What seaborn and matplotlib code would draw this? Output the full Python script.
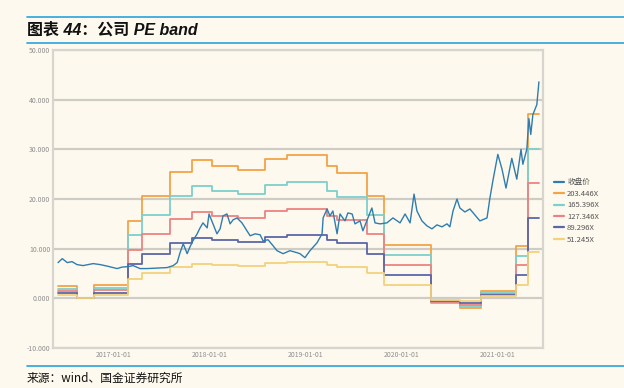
import matplotlib
matplotlib.use("Agg")
import matplotlib.pyplot as plt
from matplotlib.lines import Line2D
import seaborn as sns
import pandas as pd

# ---------------- data ----------------
price_dates = [
    "2016-06-06", "2016-06-22", "2016-07-11", "2016-07-29", "2016-08-17", "2016-09-09",
    "2016-10-17", "2016-11-13", "2016-12-09", "2017-01-01", "2017-01-16", "2017-02-04",
    "2017-02-27", "2017-03-18", "2017-04-13", "2017-05-10", "2017-06-17", "2017-07-25",
    "2017-08-17", "2017-09-01", "2017-09-12", "2017-09-24", "2017-10-09", "2017-10-20",
    "2017-10-31", "2017-11-16", "2017-11-27", "2017-12-08", "2017-12-24", "2017-12-31",
    "2018-01-15", "2018-01-30", "2018-02-11", "2018-02-22", "2018-03-09", "2018-03-21",
    "2018-04-01", "2018-04-16", "2018-05-05", "2018-05-24", "2018-06-05", "2018-06-24",
    "2018-07-13", "2018-07-24", "2018-08-12", "2018-08-31", "2018-09-15", "2018-10-08",
    "2018-11-03", "2018-11-30", "2018-12-11", "2018-12-30", "2019-01-18", "2019-02-14",
    "2019-03-05", "2019-03-09", "2019-03-24", "2019-04-04", "2019-04-15", "2019-05-01",
    "2019-05-12", "2019-05-31", "2019-06-11", "2019-06-27", "2019-07-08", "2019-07-27",
    "2019-08-07", "2019-08-26", "2019-09-10", "2019-09-22", "2019-10-11", "2019-11-06",
    "2019-11-29", "2019-12-26", "2020-01-14", "2020-02-02", "2020-02-17", "2020-02-28",
    "2020-03-18", "2020-04-06", "2020-04-25", "2020-05-14", "2020-06-02", "2020-06-21",
    "2020-07-02", "2020-07-14", "2020-07-29", "2020-08-09", "2020-08-28", "2020-09-16",
    "2020-10-05", "2020-10-24", "2020-11-20", "2020-12-01", "2020-12-12", "2020-12-31",
    "2021-01-16", "2021-01-31", "2021-02-22", "2021-03-13", "2021-03-29", "2021-04-05",
    "2021-04-20", "2021-04-28", "2021-05-05", "2021-05-13", "2021-05-28", "2021-06-05",
]
price_values = [
    7200, 8000, 7200, 7400, 6800, 6600,
    7000, 6800, 6500, 6200, 6000, 6300,
    6400, 6600, 6000, 6000, 6100, 6200,
    6600, 7200, 9200, 11000, 9000, 10400,
    11600, 13000, 14200, 15200, 14200, 17000,
    15000, 13000, 14000, 16600, 17000, 15000,
    15800, 16200, 15200, 13600, 12600, 13000,
    12800, 11600, 11800, 10600, 9600, 9000,
    9600, 9200, 9000, 8200, 9600, 11200,
    13000, 16200, 18000, 16600, 17600, 13000,
    17000, 15600, 17200, 17000, 15000, 15600,
    13600, 16200, 18200, 15200, 15000, 15200,
    16200, 15200, 17000, 15200, 21000, 17600,
    15600, 14600, 14000, 14800, 14400, 15000,
    14400, 17600, 20000, 18200, 17400, 18000,
    16800, 15600, 16200, 20200, 23600, 29000,
    26000, 22200, 28200, 24000, 30000, 27000,
    30000, 36200, 33000, 37000, 39000, 43600,
]

eps_dates = [
    "2016-06-06", "2016-08-17", "2016-10-21", "2017-02-27", "2017-04-20", "2017-08-05",
    "2017-10-28", "2018-01-11", "2018-04-20", "2018-08-01", "2018-10-23", "2019-03-23",
    "2019-04-30", "2019-08-21", "2019-10-26", "2020-04-21", "2020-08-09", "2020-10-28",
    "2021-03-10", "2021-04-24", "2021-06-05",
]
eps_values = [
    12, 0, 13, 77, 101, 125,
    137, 131, 127, 138, 142, 131,
    124, 101, 53, -5, -10, 7.5,
    52, 182, 182,
]

band_multiples = [203.446, 165.396, 127.346, 89.296, 51.245]
series_labels = ["收盘价", "203.446X", "165.396X", "127.346X", "89.296X", "51.245X"]
series_colors = ["#2F7DB0", "#F4A345", "#7DD0CB", "#EC8383", "#5C66A6", "#F2D27C"]

y_ticks = [-10000, 0, 10000, 20000, 30000, 40000, 50000]
y_tick_labels = ["-10.000", "0.000", "10.000", "20.000", "30.000", "40.000", "50.000"]
x_ticks = ["2017-01-01", "2018-01-01", "2019-01-01", "2020-01-01", "2021-01-01"]

# ---------------- frames ----------------
price_df = pd.DataFrame({"date": pd.to_datetime(price_dates), "value": price_values})
band_frames = []
for m, lab in zip(band_multiples, series_labels[1:]):
    band_frames.append(pd.DataFrame({
        "date": pd.to_datetime(eps_dates),
        "value": [m * e for e in eps_values],
        "band": lab,
    }))
bands_df = pd.concat(band_frames, ignore_index=True)

# ---------------- figure ----------------
sns.set_theme(style="white")
plt.rcParams["font.family"] = ["Noto Sans CJK SC", "DejaVu Sans"]
bg = "#FDF9EE"
fig = plt.figure(figsize=(6.24, 3.88), dpi=100, facecolor=bg)
ax = fig.add_axes([0.085, 0.103, 0.785, 0.768], facecolor=bg)

for y in y_ticks:
    ax.axhline(y, color="#CFCCC6", lw=1.6, zorder=0)

for lab, col in zip(series_labels[1:], series_colors[1:]):
    sub = bands_df[bands_df["band"] == lab]
    sns.lineplot(data=sub, x="date", y="value", ax=ax, color=col, lw=1.3,
                 drawstyle="steps-post", legend=False, zorder=2)

sns.lineplot(data=price_df, x="date", y="value", ax=ax, color=series_colors[0],
             lw=1.0, legend=False, zorder=3)

ax.set_xlim(pd.Timestamp("2016-05-18"), pd.Timestamp("2021-06-20"))
ax.set_ylim(-10000, 50000)
ax.set_yticks(y_ticks)
ax.set_yticklabels(y_tick_labels, fontsize=5, color="#8F8F8F")
ax.set_xticks(pd.to_datetime(x_ticks))
ax.set_xticklabels(x_ticks, fontsize=5, color="#8F8F8F")
ax.tick_params(axis="both", length=0, pad=2)
ax.set_xlabel("")
ax.set_ylabel("")
for s in ax.spines.values():
    s.set_color("#D8D5CF")
    s.set_linewidth(1.6)

handles = [Line2D([0], [0], color=c, lw=1.6) for c in series_colors]
fig.legend(handles, series_labels, loc="upper left", bbox_to_anchor=(0.877, 0.558),
           frameon=False, fontsize=5.5, handlelength=1.3, handletextpad=0.4,
           labelspacing=0.45, labelcolor="#555555")

# title & source with rules
line_col = "#29A3DB"
for yy in (17, 43, 366):
    fig.add_artist(Line2D([27 / 624, 1.0], [1 - yy / 388, 1 - yy / 388],
                          color=line_col, lw=1.2))
fig.text(27 / 624, 1 - 30 / 388, "图表 44：公司 PE band", fontsize=11.5, fontweight="bold",
         fontstyle="italic", va="center", ha="left", color="#111111",
         family=["Liberation Sans", "Noto Sans CJK SC"])
fig.text(27 / 624, 1 - 378 / 388, "来源：wind、国金证券研究所", fontsize=8.5,
         va="center", ha="left", color="#111111")

fig.savefig("out.png", dpi=100, facecolor=bg)
